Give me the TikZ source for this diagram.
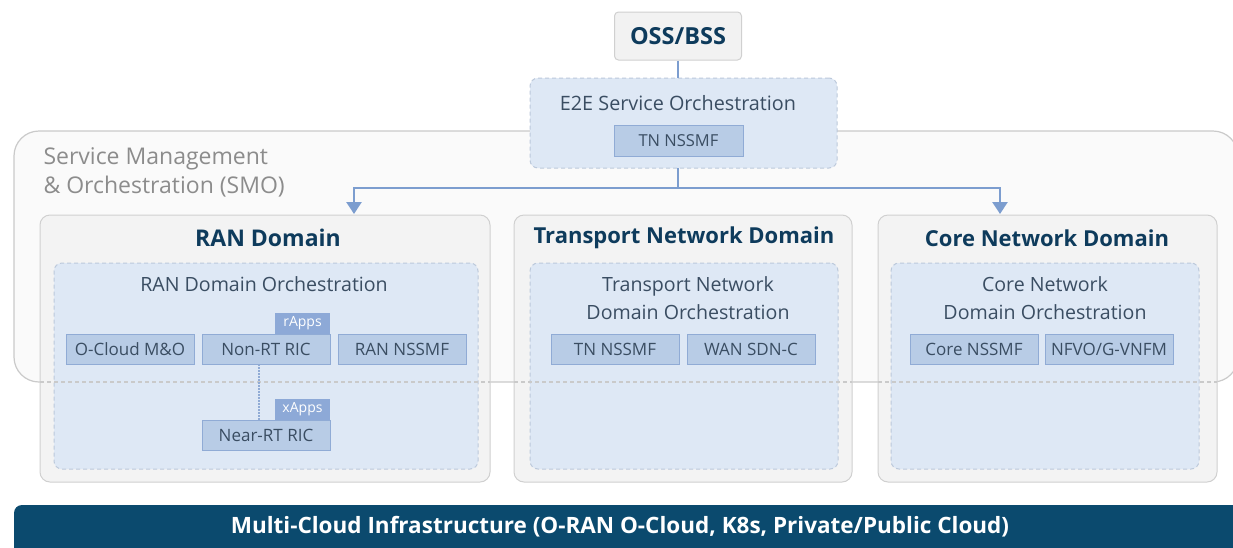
\documentclass[tikz,border=0pt]{standalone}
\usepackage{fontspec}
\setmainfont{Open Sans}
\usetikzlibrary{arrows.meta}
\definecolor{navy}{HTML}{0E3B5C}
\definecolor{ctext}{HTML}{3A4D62}
\definecolor{smotext}{HTML}{8C8C8C}
\definecolor{smofill}{HTML}{FAFAFA}
\definecolor{smoline}{HTML}{CACACA}
\definecolor{domfill}{HTML}{F3F3F3}
\definecolor{domline}{HTML}{D0D0D0}
\definecolor{orchfill}{HTML}{DEE8F5}
\definecolor{orchline}{HTML}{BCC9DB}
\definecolor{cfill}{HTML}{B8CCE6}
\definecolor{cline}{HTML}{90ABD5}
\definecolor{tagfill}{HTML}{8DA9D7}
\definecolor{arrcol}{HTML}{7C9DCF}
\definecolor{barcol}{HTML}{0B4A6E}
\definecolor{ossfill}{HTML}{F2F2F2}
\tikzset{
  dombox/.style={draw=domline, fill=domfill, rounded corners=10pt, line width=1pt, inner sep=0pt, outer sep=0pt, minimum width=#1, minimum height=267pt},
  orchbox/.style={draw=orchline, fill=orchfill, dash pattern=on 4pt off 3pt, rounded corners=8pt, line width=1pt, inner sep=0pt, outer sep=0pt, minimum width=#1, minimum height=206pt},
  cbox/.style={draw=cline, fill=cfill, line width=1pt, inner sep=0pt, outer sep=0pt, minimum width=#1, minimum height=30pt, text=ctext, font=\fontsize{17}{17}\selectfont},
  tagbox/.style={fill=tagfill, inner sep=0pt, outer sep=0pt, minimum width=55pt, minimum height=21pt, text=white, font=\fontsize{14}{14}\selectfont},
  domtitle/.style={text=navy, font=\bfseries\fontsize{22}{22}\selectfont},
  orchtitle/.style={text=ctext, font=\fontsize{19.6}{28}\selectfont, align=center},
  arr/.style={draw=arrcol, line width=2.5pt, -{Triangle[width=15pt,length=12pt]}},
  smodash/.style={draw=smoline, line width=1.2pt, dash pattern=on 4pt off 3pt},
}
\begin{document}
\begin{tikzpicture}[x=1pt,y=-1pt]
\useasboundingbox (0,0) rectangle (1233,547);
\fill[white] (0,0) rectangle (1233,547);

% SMO
\node[draw=smoline, fill=smofill, line width=1.2pt, rounded corners=25pt, inner sep=0pt, minimum width=1224pt, minimum height=251pt] (smo) at (626,256.5) {};
\node[anchor=west, align=left, text=smotext, font=\fontsize{23}{29}\selectfont] (smolabel) at (40,172.5) {Service Management\\\& Orchestration (SMO)};

% OSS/BSS
\node[draw=domline, fill=ossfill, line width=1pt, rounded corners=4pt, inner sep=0pt, minimum width=127pt, minimum height=48pt, text=navy, font=\bfseries\fontsize{23.5}{23.5}\selectfont] (oss) at (678,36) {OSS/BSS};

% E2E
\node[orchbox=307pt, minimum height=90pt] (e2e) at (683.5,123) {};
\node[text=ctext, font=\fontsize{19.8}{19.8}\selectfont] (e2etitle) at (678,103) {E2E Service Orchestration};
\node[cbox=129pt, minimum height=31pt, font=\fontsize{16.5}{16.5}\selectfont] (e2etn) at (678.5,140.5) {TN NSSMF};

\draw[draw=arrcol, line width=2.5pt] (oss.south) -- (oss.south |- e2e.north);
\coordinate (j) at (678,188);
\coordinate (ta) at (354,214);
\coordinate (tb) at (1000,214);
\draw[draw=arrcol, line width=2.5pt] (j |- e2e.south) -- (j);
\draw[arr] (j) -| (ta);
\draw[arr] (j) -| (tb);

% Domains
\node[dombox=450pt] (ran) at (265,348.5) {};
\node[dombox=338pt] (trans) at (683,348.5) {};
\node[dombox=339pt] (core) at (1047.5,348.5) {};
\node[domtitle, font=\bfseries\fontsize{23}{23}\selectfont] (rant) at (268,238) {RAN Domain};
\node[domtitle] (transt) at (684,238) {Transport Network Domain};
\node[domtitle] (coret) at (1047,238) {Core Network Domain};

\node[orchbox=424pt] (ranorch) at (266,366) {};
\node[orchbox=308pt] (transorch) at (684,366) {};
\node[orchbox=308pt] (coreorch) at (1045,366) {};

% SMO lower border seen through the domains
\draw[smodash] (ran.west |- 0,382) -- (ran.east |- 0,382);
\draw[smodash] (trans.west |- 0,382) -- (trans.east |- 0,382);
\draw[smodash] (core.west |- 0,382) -- (core.east |- 0,382);

\node[orchtitle] (ranot) at (264,284) {RAN Domain Orchestration};
\node[orchtitle] (transot) at (688,298) {Transport Network\\Domain Orchestration};
\node[orchtitle] (coreot) at (1045,298) {Core Network\\Domain Orchestration};

% RAN inner
\node[cbox=128pt] (ocloud) at (130,349) {O-Cloud M\&O};
\node[cbox=128pt] (nonrt) at (266,349) {Non-RT RIC};
\node[cbox=128pt] (rannssmf) at (402,349) {RAN NSSMF};
\node[tagbox] (rapps) at (302.5,323.5) {rApps};
\node[cbox=128pt] (nearrt) at (266,435) {Near-RT RIC};
\node[tagbox] (xapps) at (302.5,409.5) {xApps};
\draw[draw=cline, line width=1.5pt, dash pattern=on 1.5pt off 1.5pt] ([xshift=-7pt]nonrt.south) -- ([xshift=-7pt]nearrt.north);

% Transport inner
\node[cbox=128pt] (tnnssmf) at (615,349) {TN NSSMF};
\node[cbox=128pt] (wansdn) at (751,349) {WAN SDN-C};

% Core inner
\node[cbox=128pt] (corenssmf) at (974,349) {Core NSSMF};
\node[cbox=128pt] (nfvo) at (1109,349) {NFVO/G-VNFM};

% Infrastructure bar
\node[fill=barcol, rounded corners=8pt, inner sep=0pt, minimum width=1240pt, minimum height=60pt] (bar) at (634,535) {};
\node[text=white, font=\bfseries\fontsize{22.5}{22.5}\selectfont] (bartext) at (620,527) {Multi-Cloud Infrastructure (O-RAN O-Cloud, K8s, Private/Public Cloud)};
\end{tikzpicture}
\end{document}
